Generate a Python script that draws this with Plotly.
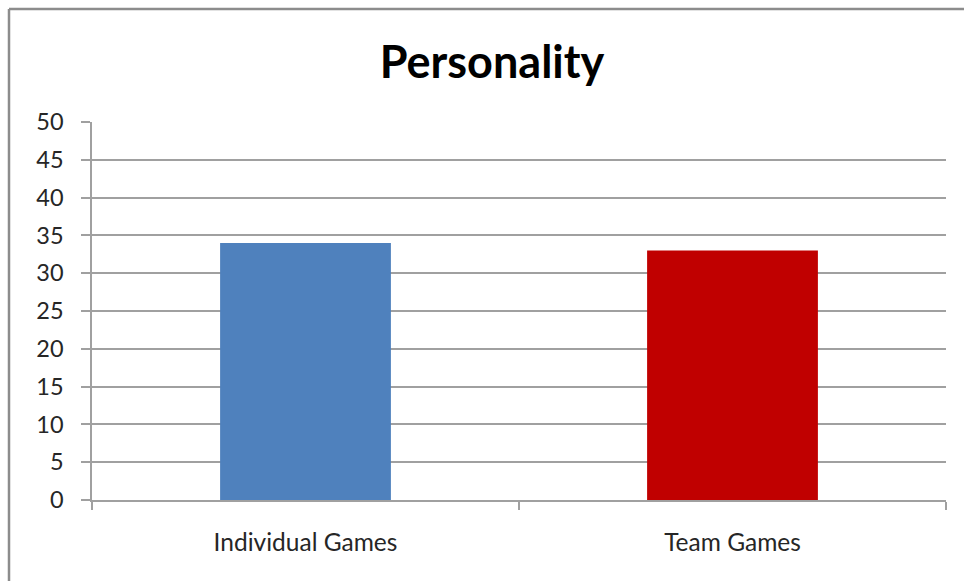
import plotly.graph_objects as go

categories = ["Individual Games", "Team Games"]
values = [34, 33]
colors = ["#4F81BD", "#C00000"]
title_text = "Personality"

fig = go.Figure()
fig.add_trace(go.Bar(x=categories, y=values, marker=dict(color=colors, line=dict(width=0)), width=0.4))

L, R, T, B = 92, 946, 122, 500
W, H = 964, 581
pw, ph = R - L, B - T

def px_x(p):
    return (p - L) / pw

def px_y(p):
    return (B - p) / ph

fig.update_layout(
    width=W, height=H,
    margin=dict(l=L, r=W - R, t=T, b=H - B),
    plot_bgcolor="white", paper_bgcolor="white",
    font=dict(family="Lato, Open Sans, sans-serif", size=24, color="#222"),
    title=dict(text="<b>" + title_text + "</b>", x=492 / W, xanchor="center",
               y=1 - 62 / H, yanchor="middle", font=dict(size=45, color="black")),
    showlegend=False,
    xaxis=dict(showline=True, linecolor="#a0a0a0", linewidth=1.5, ticks="outside", tickson="boundaries",
               ticklen=8, tickcolor="#a0a0a0", tickwidth=1.5, ticklabelstandoff=20,
               tickfont=dict(size=24.5, color="#262626")),
    yaxis=dict(range=[0, 50], dtick=5, showline=True, linecolor="#a0a0a0", linewidth=1.5,
               ticks="outside", ticklen=9, tickcolor="#a0a0a0", tickwidth=1.5,
               showgrid=True, gridcolor="#a0a0a0", gridwidth=1.5, zeroline=False,
               tickfont=dict(size=23.5, color="#262626"), ticklabelstandoff=13),
    shapes=[
        dict(type="line", xref="paper", yref="paper", x0=px_x(9), x1=px_x(9), y0=px_y(600), y1=px_y(9),
             line=dict(color="#8c8c8c", width=2.5)),
        dict(type="line", xref="paper", yref="paper", x0=px_x(9), x1=px_x(1000), y0=px_y(9), y1=px_y(9),
             line=dict(color="#8c8c8c", width=2.5)),
    ],
)

fig.write_html("out.html", config={"displayModeBar": False},
               post_script="document.body.style.margin='0';document.body.style.overflow='hidden';")
